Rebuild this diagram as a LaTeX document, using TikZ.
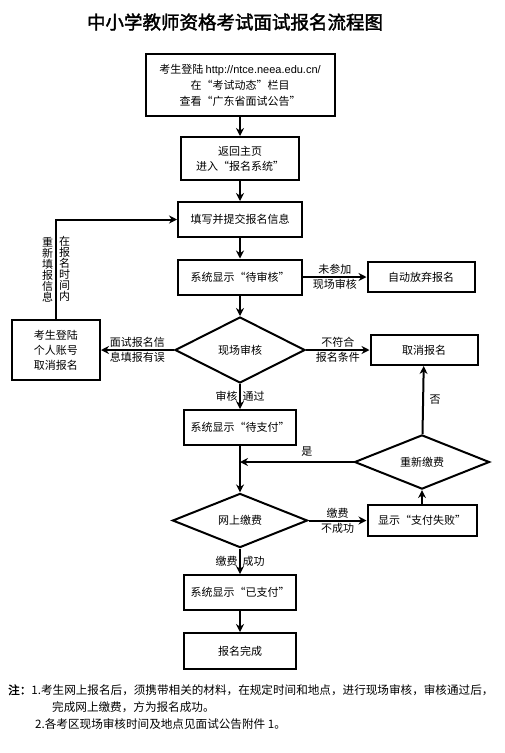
\documentclass[tikz,border=0pt]{standalone}
\usepackage{fontspec}
\setmainfont{Noto Sans CJK SC}
\newfontfamily\latinfont{Liberation Sans}
\newfontfamily\boldcjk[FakeBold=2]{Noto Sans CJK SC}
\usetikzlibrary{shapes.geometric}
\usetikzlibrary{arrows.meta,arrows}
\usetikzlibrary{positioning}
\tikzset{
	box/.style={rectangle, draw, line width=2pt, align=center, inner sep=2pt},
	decision/.style={diamond, draw, line width=2pt, inner sep=0pt, align=center},
	arrow/.style={draw, -{Stealth[length=8pt, width=8pt]}, line width=2pt},
	lbl/.style={inner sep=1.5pt, align=center},
	vtext/.style={inner sep=2pt, align=center, font=\fontsize{11}{11}\selectfont},
	note/.style={anchor=west, inner sep=0pt, font=\fontsize{11.6}{14}\selectfont}
}

\begin{document}
\begin{tikzpicture}[x=1pt, y=1pt, node distance=60pt, font=\fontsize{11}{15}\selectfont]

\useasboundingbox (0,0) rectangle (505,-753);

\node (title) at (235,-22)
	{\boldcjk\fontsize{18.5}{20}\selectfont 中小学教师资格考试面试报名流程图};

\node[box, minimum width=189pt, minimum height=62pt, font=\fontsize{11}{16}\selectfont]
	(login) at (240,-85)
	{考生登陆 {\latinfont http://ntce.neea.edu.cn/}\\在“考试动态”栏目\\查看“广东省面试公告”};

\node[box, minimum width=118pt, minimum height=43pt, below of = login,
	node distance=73.5pt] (home) {返回主页\\进入“报名系统”};

\node[box, minimum width=124pt, minimum height=35pt, below of = home,
	node distance=61pt] (fill) {填写并提交报名信息};

\node[box, minimum width=124pt, minimum height=35pt, below of = fill,
	node distance=57.5pt] (pending) {系统显示“待审核”};

\node[box, minimum width=107pt, minimum height=30pt, right of = pending,
	node distance=181pt] (abandon) {自动放弃报名};

\node[decision, minimum width=130pt, minimum height=66pt, below of = pending,
	node distance=73pt] (onsite) {现场审核};

\node[box, minimum width=88pt, minimum height=60pt, left of = onsite,
	node distance=184pt] (withdraw) {考生登陆\\个人账号\\取消报名};

\node[box, minimum width=107pt, minimum height=30pt, right of = onsite,
	node distance=184pt] (cancel) {取消报名};

\node[box, minimum width=112pt, minimum height=35pt, below of = onsite,
	node distance=77.5pt] (unpaid) {系统显示“待支付”};

\node[decision, minimum width=135pt, minimum height=53pt, below of = unpaid,
	node distance=93pt] (pay) {网上缴费};

\node[box, minimum width=109pt, minimum height=31pt, right of = pay,
	node distance=182pt] (failed) {显示“支付失败”};

\node[decision, minimum width=135pt, minimum height=48pt, above of = failed,
	node distance=58.5pt] (repay) {重新缴费};

\node[box, minimum width=112pt, minimum height=35pt, below of = pay,
	node distance=72pt] (paid) {系统显示“已支付”};

\node[box, minimum width=112pt, minimum height=36pt, below of = paid,
	node distance=58.5pt] (done) {报名完成};

\node[note] (note1) at (8,-690)
	{{\boldcjk 注：}1.考生网上报名后，须携带相关的材料，在规定时间和地点，进行现场审核，审核通过后，};
\node[note] (note2) at (52,-707) {完成网上缴费，方为报名成功。};
\node[note] (note3) at (35,-724) {2.各考区现场审核时间及地点见面试公告附件 1。};


\draw [arrow] (login) -- (home);
\draw [arrow] (home) -- (fill);
\draw [arrow] (fill) -- (pending);
\draw [arrow] (pending) -- (onsite);
\draw [arrow] (unpaid) -- (pay);
\draw [arrow] (paid) -- (done);

\draw [arrow] (pending) -- node[lbl, above]{未参加} node[lbl, below]{现场审核} (abandon);

\draw [arrow] (onsite) -- node[lbl, above]{面试报名信} node[lbl, below]{息填报有误} (withdraw);

\draw [arrow] (onsite) -- node[lbl, above]{不符合} node[lbl, below]{报名条件} (cancel);

\draw [arrow] (withdraw.north) |- node[vtext, pos=0.25, left]{重\\新\\填\\报\\信\\息}
	node[vtext, pos=0.25, right]{在\\报\\名\\时\\间\\内} (fill.west);

\draw [arrow] (onsite) -- node[lbl, left]{审核} node[lbl, right]{通过} (unpaid);

\draw [arrow] (pay) -- node[lbl, left]{缴费} node[lbl, right]{成功} (paid);

\draw [arrow] (pay) -- node[lbl, above]{缴费} node[lbl, below]{不成功} (failed);

\draw [arrow] (failed) -- (repay);

\draw [arrow] (repay) -- node[lbl, right, xshift=4pt]{否} (cancel);

\draw [arrow] (repay.west) -- node[lbl, above, pos=0.41, yshift=3pt]{是} (repay.west -| unpaid.south);

\end{tikzpicture}
\end{document}
